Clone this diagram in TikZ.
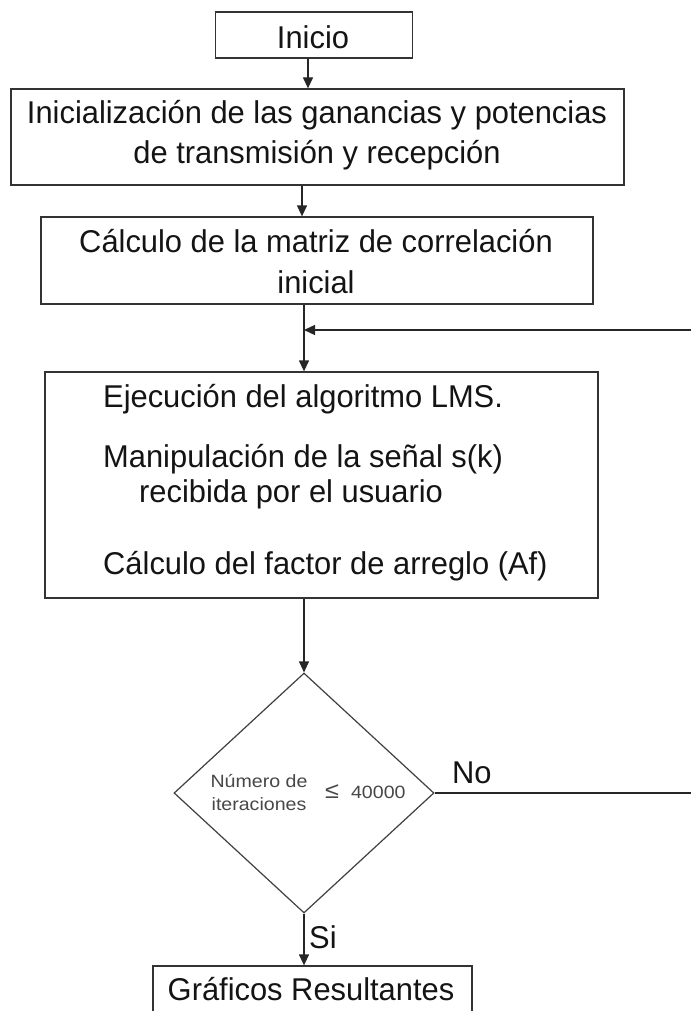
\documentclass[tikz,border=0pt]{standalone}
\usepackage{fontspec}
\setmainfont{Liberation Sans}[FakeStretch=0.98]
\newfontfamily\smallfont[FakeStretch=1.1]{Liberation Sans}
\usetikzlibrary{arrows.meta,shapes.geometric}
\begin{document}
\begin{tikzpicture}[x=1pt,y=-1pt,
  box/.style={draw=black!80,line width=1.3pt,inner sep=0pt,rectangle},
  txt/.style={font=\fontsize{31.5}{36}\selectfont,inner sep=0pt,anchor=base,text=black!92},
  ltxt/.style={txt,anchor=base west},
  stxt/.style={font=\smallfont\fontsize{17.8}{20}\selectfont,inner sep=0pt,text=black!72},
  conn/.style={draw=black!85,line width=1.3pt},
  arr/.style={conn,-{Triangle[length=11pt,width=10pt]}},
]
\clip (0,0) rectangle (691,1011);
\fill[white] (0,0) rectangle (691,1011);

% boxes
\node[box,minimum width=197pt,minimum height=46pt] (inicio) at (314,35) {};
\node[txt] (tinicio) at (313,49) {Inicio};

\node[box,minimum width=613pt,minimum height=96pt] (init) at (317.5,137) {};
\node[txt] (tinit1) at (317,124) {Inicialización de las ganancias y potencias};
\node[txt] (tinit2) at (317,164) {de transmisión y recepción};

\node[box,minimum width=552pt,minimum height=87pt] (corr) at (317,260.5) {};
\node[txt] (tcorr1) at (316,252) {Cálculo de la matriz de correlación};
\node[txt] (tcorr2) at (316,293) {inicial};

\node[box,minimum width=553pt,minimum height=226pt] (lms) at (321.5,485) {};
\node[ltxt] (tlms1) at (103,407) {Ejecución del algoritmo LMS.};
\node[ltxt] (tlms2) at (103,467) {Manipulación de la señal s(k)};
\node[ltxt] (tlms3) at (139,502) {recibida por el usuario};
\node[ltxt] (tlms4) at (103,574) {Cálculo del factor de arreglo (Af)};

\node[draw=black!75,line width=1.2pt,diamond,inner sep=0pt,minimum width=260pt,minimum height=240pt] (cond) at (304,793) {};
\node[stxt,anchor=base] (tc1) at (259,787) {Número de};
\node[stxt,anchor=base] (tc2) at (259,810) {iteraciones};
\node[stxt,anchor=base west] (tc3) at (325,798) {{\fontsize{23}{24}\selectfont ≤}\hspace{12pt}40000};

\node[box,minimum width=319pt,minimum height=68pt] (res) at (312.5,1000) {};
\node[txt] (tres) at (311,1000) {Gráficos Resultantes};

% connectors
\draw[arr] ([xshift=-6pt]inicio.south) -- ([xshift=-6pt]inicio.south |- init.north);
\draw[arr] ([xshift=-15.5pt]init.south) -- ([xshift=-15.5pt]init.south |- corr.north);
\coordinate (join) at (304,330);
\coordinate (fbR) at (691,330);
\draw[arr] ([xshift=-13pt]corr.south) -- ([xshift=-13pt]corr.south |- lms.north);
\draw[arr] (fbR) -- (join);
\draw[arr] ([xshift=-17.5pt]lms.south) -- (cond.north);
\coordinate (noR) at (691,793);
\draw[conn] (cond.east) -- (noR);
\node[txt,anchor=base west] (no) at (452,783) {No};
\draw[arr] (cond.south) -- (cond.south |- res.north);
\node[txt,anchor=base west] (si) at (309,948) {Si};
\end{tikzpicture}
\end{document}
